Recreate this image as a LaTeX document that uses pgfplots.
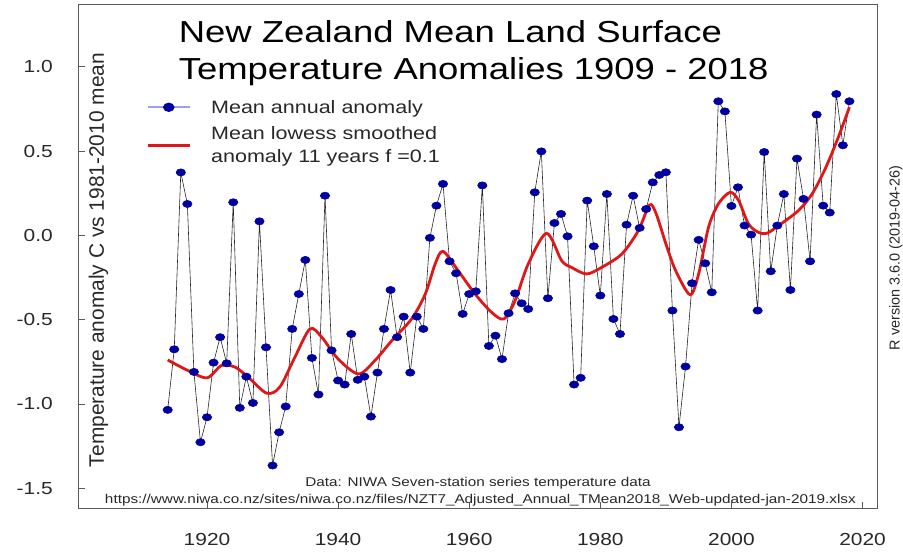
\documentclass[border=0pt]{standalone}
\usepackage{fontspec}
\setmainfont{Liberation Sans}[FakeStretch=1.2]
\newfontfamily\plainsans{Liberation Sans}
\usepackage{pgfplots}
\usepackage{pgfplotstable}
\pgfplotsset{compat=1.18}

\definecolor{markblue}{RGB}{0,0,160}
\definecolor{lowessred}{RGB}{222,24,24}
\definecolor{legline}{RGB}{160,160,230}
\definecolor{framegray}{RGB}{90,90,90}
\definecolor{textgray}{RGB}{40,40,40}

\pgfplotsset{
    annual legend/.style={legend image code/.code={
        \draw[mark repeat=2, mark phase=2, ##1, draw=legline, line width=2bp]
            plot coordinates {(0bp,0bp) (21bp,0bp) (42bp,0bp)};}},
    lowess legend/.style={legend image code/.code={
        \draw[##1] (0bp,0bp) -- (42bp,0bp);}},
}

% NIWA seven-station series, annual anomaly vs 1981-2010 mean
\pgfplotstableread{
year anomaly
1914 -1.035
1915 -0.676
1916 0.373
1917 0.186
1918 -0.810
1919 -1.227
1920 -1.079
1921 -0.755
1922 -0.604
1923 -0.759
1924 0.196
1925 -1.023
1926 -0.838
1927 -0.994
1928 0.083
1929 -0.664
1930 -1.365
1931 -1.168
1932 -1.015
1933 -0.555
1934 -0.348
1935 -0.146
1936 -0.727
1937 -0.944
1938 0.235
1939 -0.682
1940 -0.861
1941 -0.885
1942 -0.585
1943 -0.857
1944 -0.838
1945 -1.075
1946 -0.814
1947 -0.555
1948 -0.324
1949 -0.604
1950 -0.482
1951 -0.814
1952 -0.482
1953 -0.555
1954 -0.015
1955 0.176
1956 0.305
1957 -0.154
1958 -0.225
1959 -0.466
1960 -0.348
1961 -0.332
1962 0.296
1963 -0.656
1964 -0.595
1965 -0.734
1966 -0.462
1967 -0.344
1968 -0.403
1969 -0.437
1970 0.255
1971 0.498
1972 -0.373
1973 0.073
1974 0.127
1975 -0.006
1976 -0.885
1977 -0.845
1978 0.206
1979 -0.065
1980 -0.357
1981 0.245
1982 -0.496
1983 -0.585
1984 0.063
1985 0.235
1986 0.044
1987 0.156
1988 0.314
1989 0.358
1990 0.374
1991 -0.446
1992 -1.138
1993 -0.778
1994 -0.284
1995 -0.027
1996 -0.166
1997 -0.338
1998 0.795
1999 0.735
2000 0.174
2001 0.285
2002 0.058
2003 0.004
2004 -0.446
2005 0.494
2006 -0.213
2007 0.058
2008 0.245
2009 -0.324
2010 0.455
2011 0.216
2012 -0.154
2013 0.716
2014 0.176
2015 0.135
2016 0.838
2017 0.534
2018 0.795
}\annual

% lowess curve
\pgfplotstableread{
year smooth
1914 -0.739
1917 -0.800
1920 -0.845
1922.2 -0.772
1924.3 -0.782
1926.3 -0.842
1929.1 -0.936
1931.1 -0.900
1933.4 -0.723
1935.7 -0.555
1937.5 -0.604
1940 -0.733
1943.1 -0.822
1945.6 -0.743
1948.2 -0.624
1951.2 -0.496
1953.3 -0.348
1954.8 -0.170
1956.0 -0.095
1958.3 -0.209
1960.9 -0.348
1963.4 -0.456
1965.3 -0.496
1967.0 -0.387
1969.0 -0.170
1971.8 0.012
1974.1 -0.150
1975.6 -0.190
1977.9 -0.229
1980.2 -0.190
1983.3 -0.110
1985.8 0.028
1987.5 0.180
1988.5 0.130
1990 -0.050
1991.5 -0.210
1993.7 -0.352
1995 -0.229
1996.5 0.047
1998 0.186
1999.8 0.255
2001.1 0.206
2002.6 0.068
2004.1 0.018
2005.4 0.012
2007.2 0.058
2010.2 0.146
2012.3 0.245
2014.3 0.394
2016.3 0.581
2018 0.760
}\lowess

\begin{document}
\begin{tikzpicture}
\useasboundingbox (-79bp,-44bp) rectangle (824bp,508bp);
\begin{axis}[
    at={(0,0)}, anchor=south west,
    scale only axis,
    width=798bp, height=503bp,
    xmin=1900.47, xmax=2022.21,
    ymin=-1.617, ymax=1.366,
    clip=false,
    axis line style={framegray, line width=1bp},
    tick style={framegray, line width=0.9bp},
    tick align=inside,
    major tick length=6bp,
    xtick pos=bottom, ytick pos=left,
    xtick={1920,1940,1960,1980,2000,2020},
    xticklabels={1920,1940,1960,1980,2000,2020},
    ytick={-1.5,-1,-0.5,0,0.5,1},
    yticklabels={-1.5,-1.0,-0.5,0.0,0.5,1.0},
    tick label style={font=\fontsize{17.5}{20}\selectfont, inner sep=0pt, text=textgray},
    xticklabel style={anchor=north, yshift=-25.6bp},
    yticklabel style={anchor=east, xshift=-26bp},
    title={New Zealand Mean Land Surface\\Temperature Anomalies 1909 - 2018},
    title style={at={(rel axis cs:0.1248,0.9573)}, anchor=north west,
        align=left, inner sep=0pt, font=\fontsize{30.5}{37}\selectfont},
    ylabel={Temperature anomaly C vs 1981-2010 mean},
    ylabel style={at={(rel axis cs:0.0244,0.493)}, anchor=center, text=textgray,
        inner sep=0pt, font=\plainsans\fontsize{21}{24}\selectfont},
    legend cell align=left,
    legend style={draw=none, fill=none,
        at={(rel axis cs:0.0844,0.815)}, anchor=north west,
        inner sep=0pt, outer sep=0pt,
        row sep=8bp, column sep=18bp, text=textgray,
        font=\fontsize{18}{23}\selectfont,
        cells={anchor=west, align=left, inner sep=0pt}},
]
\addplot[black!85, line width=0.6bp,
    mark=*, mark size=3.6bp,
    mark options={solid, draw=markblue, fill=markblue, xscale=1.3},
    annual legend
] table[x=year, y=anomaly] {\annual};
\addlegendentry{Mean annual anomaly}

\addplot[lowessred, line width=2.8bp, smooth, no marks, lowess legend]
    table[x=year, y=smooth] {\lowess};
\addlegendentry{Mean lowess smoothed\\anomaly 11 years f =0.1}

\node[anchor=base, inner sep=0pt, text=textgray, font=\fontsize{12.8}{15}\selectfont]
    at (rel axis cs:0.5,0.0437) {Data: NIWA Seven-station series temperature data};
\node[anchor=base, inner sep=0pt, text=textgray, font=\fontsize{12.8}{15}\selectfont]
    at (rel axis cs:0.503,0.0099)
    {https://www.niwa.co.nz/sites/niwa.co.nz/files/NZT7\_Adjusted\_Annual\_TMean2018\_Web-updated-jan-2019.xlsx};
\node[anchor=center, inner sep=0pt, rotate=90, text=textgray, font=\plainsans\fontsize{14.5}{17}\selectfont]
    at (rel axis cs:1.0238,0.497) {R version 3.6.0 (2019-04-26)};
\end{axis}
\end{tikzpicture}
\end{document}
